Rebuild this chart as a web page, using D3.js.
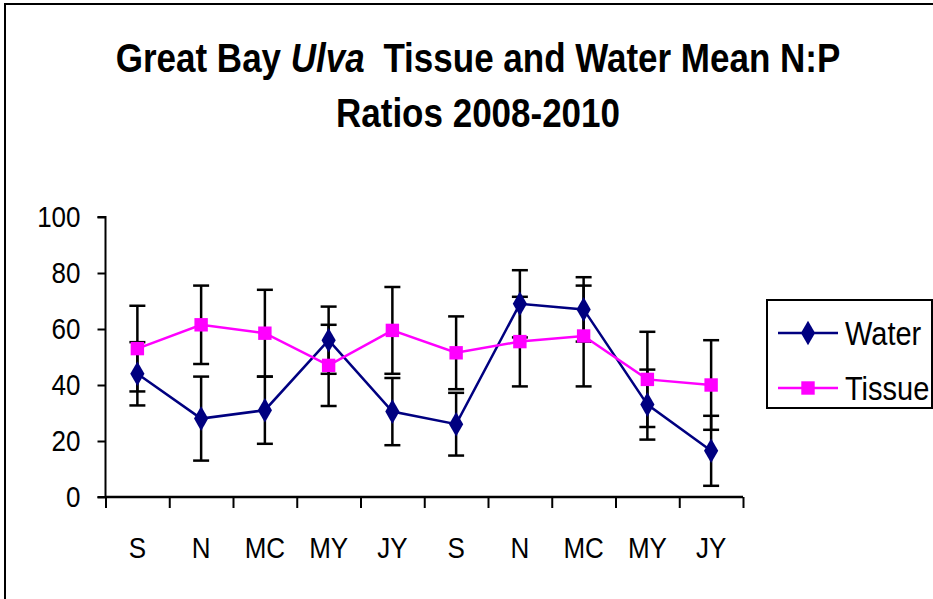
<!DOCTYPE html>
<html>
<head>
<meta charset="utf-8">
<script src="https://cdn.jsdelivr.net/npm/d3@7"></script>
<style>
  body { margin: 0; background: #fff; }
  text { font-family: "Liberation Sans", Arial, sans-serif; fill: #000; }
</style>
</head>
<body>
<div class="canva"></div>
<script>
const canvas = d3.select(".canva");

// sampling months, two seasons
var months = ["S", "N", "MC", "MY", "JY", "S", "N", "MC", "MY", "JY"];

var waterMean = [44, 28, 31, 56, 30.5, 26, 69, 67, 33, 16.5];
var waterErr  = [11.3, 15, 12, 12, 12, 11.2, 12, 11.5, 12.5, 12.5];

var tissueMean = [53, 61.5, 58.5, 47, 59.5, 51.5, 55.5, 57.5, 42, 40];
var tissueErr  = [15.3, 14, 15.5, 14.5, 15.5, 13, 16, 18, 17, 16];

var yTicks = [0, 20, 40, 60, 80, 100];

const svg = canvas.append("svg")
                  .attr("width", 933)
                  .attr("height", 599);

// outer chart border (runs off right/bottom edge)
svg.append("rect")
   .attr("x", 5).attr("y", 4)
   .attr("width", 960).attr("height", 640)
   .attr("fill", "none")
   .attr("stroke", "#000")
   .attr("stroke-width", 2);

const stretch = "scale(1,1.17)";

// title
var title = svg.append("text")
               .attr("text-anchor", "middle")
               .attr("font-weight", "bold")
               .attr("font-size", 35)
               .attr("transform", "translate(478,0) scale(1,1.15)");
var line1 = title.append("tspan").attr("x", 0).attr("y", 72 / 1.15);
line1.append("tspan").text("Great Bay ");
line1.append("tspan").attr("font-style", "italic").text("Ulva");
line1.append("tspan").attr("dx", 9).text(" Tissue and Water Mean N:P");
title.append("tspan").attr("x", 0).attr("y", 127 / 1.15)
     .text("Ratios 2008-2010");

const plotLeft = 105.5, plotRight = 743, plotTop = 217, plotBottom = 497;

var x = d3.scaleBand()
          .domain(d3.range(months.length))
          .range([plotLeft, plotRight]);

var xEdge = d3.scaleLinear()
              .domain([0, months.length])
              .range([plotLeft, plotRight]);

var y = d3.scaleLinear()
          .domain([0, 100])
          .range([plotBottom, plotTop]);

var cx = i => x(i) + x.bandwidth() / 2;

// y axis
var yAxis = d3.axisLeft(y)
              .tickValues(yTicks)
              .tickSize(8)
              .tickPadding(17);
var gy = svg.append("g")
            .attr("transform", `translate(${plotLeft},0)`)
            .call(yAxis);
gy.select(".domain").attr("stroke-width", 2).attr("d", `M-8,${plotBottom}H0V${plotTop}H-8`);
gy.selectAll(".tick line").attr("stroke-width", 2);
gy.selectAll(".tick text")
  .attr("font-size", 26)
  .attr("font-family", "Liberation Sans, Arial, sans-serif")
  .attr("dy", "0.3em")
  .attr("transform", stretch);

// x axis: tick marks at category boundaries
var xAxis = d3.axisBottom(xEdge)
              .tickValues(d3.range(months.length + 1))
              .tickSize(11)
              .tickFormat("");
var gx = svg.append("g")
            .attr("transform", `translate(0,${plotBottom})`)
            .call(xAxis);
gx.select(".domain").attr("stroke-width", 2.5).attr("d", `M${plotLeft},0H${plotRight}`);
gx.selectAll(".tick line").attr("stroke-width", 2);

// x labels
var xLabels = d3.axisBottom(x)
                .tickSize(0)
                .tickFormat(i => months[i]);
var gl = svg.append("g")
            .attr("transform", `translate(0,${plotBottom})`)
            .call(xLabels);
gl.select(".domain").remove();
gl.selectAll(".tick text")
  .attr("font-size", 26)
  .attr("font-family", "Liberation Sans, Arial, sans-serif")
  .attr("y", 0)
  .attr("dy", "0.36em")
  .attr("transform", "translate(0,50) " + stretch);

const series = [
  {name: "Water", mean: waterMean, err: waterErr, color: "#000080", shape: d3.symbolDiamond, size: 175},
  {name: "Tissue", mean: tissueMean, err: tissueErr, color: "#FF00FF", shape: d3.symbolSquare, size: 180}
];

// error bars
series.forEach(function(s) {
  var eb = svg.append("g").attr("stroke", "#000").attr("stroke-width", 2.5);
  s.mean.forEach(function(m, i) {
    var hi = y(m + s.err[i]), lo = y(m - s.err[i]), xc = cx(i);
    eb.append("line").attr("x1", xc).attr("x2", xc).attr("y1", hi).attr("y2", lo);
    eb.append("line").attr("x1", xc - 8).attr("x2", xc + 8).attr("y1", hi).attr("y2", hi);
    eb.append("line").attr("x1", xc - 8).attr("x2", xc + 8).attr("y1", lo).attr("y2", lo);
  });
});

var valueLine = d3.line()
                  .x((d, i) => cx(i))
                  .y(d => y(d));

series.forEach(function(s) {
  svg.append("path")
     .datum(s.mean)
     .attr("fill", "none")
     .attr("stroke", s.color)
     .attr("stroke-width", 2.5)
     .attr("d", valueLine);
});

series.forEach(function(s) {
  svg.selectAll(null)
     .data(s.mean)
     .enter()
     .append("path")
     .attr("d", d3.symbol().type(s.shape).size(s.size))
     .attr("transform", (d, i) => `translate(${cx(i)},${y(d)})`)
     .attr("fill", s.color);
});

// legend
var legend = svg.append("g");
legend.append("rect")
      .attr("x", 767).attr("y", 300)
      .attr("width", 165).attr("height", 108)
      .attr("fill", "#fff")
      .attr("stroke", "#000")
      .attr("stroke-width", 2);

series.forEach(function(s, k) {
  var ly = 333 + k * 55;
  legend.append("line")
        .attr("x1", 778).attr("x2", 838)
        .attr("y1", ly).attr("y2", ly)
        .attr("stroke", s.color)
        .attr("stroke-width", 2.5);
  legend.append("path")
        .attr("d", d3.symbol().type(s.shape).size(s.size))
        .attr("transform", `translate(808,${ly})`)
        .attr("fill", s.color);
  legend.append("text")
        .attr("x", 845).attr("y", 0)
        .attr("dy", "0.36em")
        .attr("font-size", 29)
        .attr("transform", `translate(0,${ly}) ` + stretch)
        .text(s.name);
});
</script>
</body>
</html>
